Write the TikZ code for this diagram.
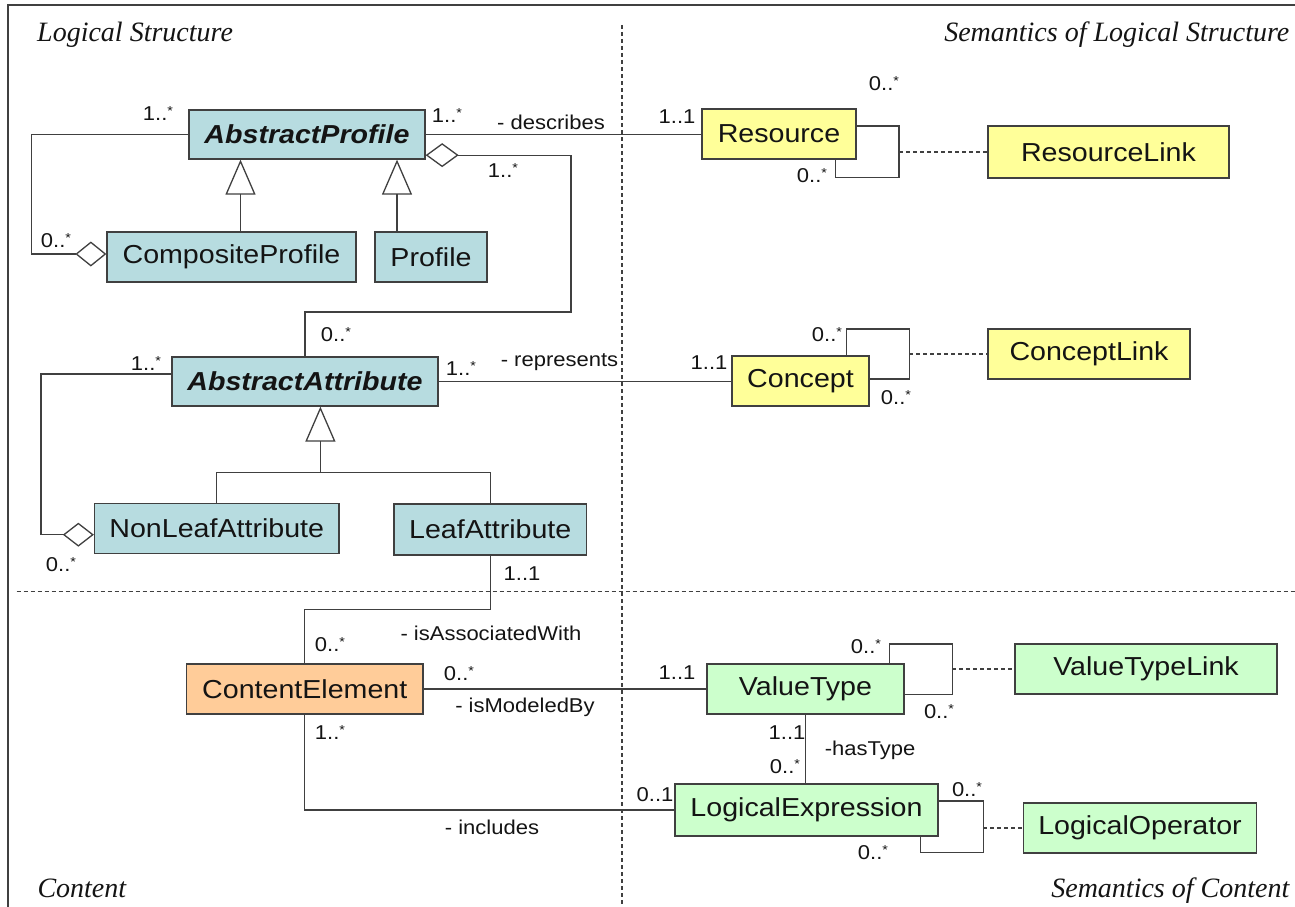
\documentclass[tikz,border=0pt]{standalone}
\usepackage{fontspec}
\setmainfont{Liberation Sans}[FakeStretch=1.1]
\newfontfamily\secfont{Liberation Serif}
\usetikzlibrary{arrows.meta}

\definecolor{clsblue}{RGB}{183,220,224}
\definecolor{clsyellow}{RGB}{255,255,153}
\definecolor{clsorange}{RGB}{255,204,153}
\definecolor{clsgreen}{RGB}{204,255,204}
\definecolor{edge}{RGB}{64,64,64}
\definecolor{ink}{RGB}{20,20,20}

% small raised star used in multiplicities
\newcommand\mstar{\raisebox{5pt}{\fontsize{13}{13}\selectfont *}}

\begin{document}
\begin{tikzpicture}[x=1pt,y=-1pt,
  cls/.style={draw=edge, line width=1.3pt, inner sep=0pt, text=ink,
              font=\fontsize{26}{30}\selectfont},
  conn/.style={draw=edge, line width=1.3pt},
  link/.style={draw=edge, line width=1.1pt, dash pattern=on 4pt off 3pt},
  sep/.style={draw=edge, line width=1.1pt, dash pattern=on 4pt off 3pt},
  gen/.style={-{Triangle[open,length=35pt,width=30pt]}},
  mult/.style={inner sep=0pt, text=ink, font=\fontsize{20}{24}\selectfont},
  sect/.style={inner sep=0pt, text=ink, font=\secfont\itshape\fontsize{28}{32}\selectfont}]

\fill[white] (0,0) rectangle (1295,907);
\useasboundingbox (0,0) rectangle (1295,907);

% frame and quadrant separators
\draw[edge, line width=1.5pt] (8,907) -- (8,5) -- (1295,5);
\draw[sep] (622,25) -- (622,907);
\draw[sep] (16.6,591.7) -- (1295,591.7);

% quadrant titles
\node[sect, anchor=base west] (tLS) at (37,41.5) {Logical Structure};
\node[sect, anchor=base east] (tSLS) at (1289.5,41.5) {Semantics of Logical Structure};
\node[sect, anchor=base west] (tC) at (37.3,897) {Content};
\node[sect, anchor=base east] (tSC) at (1289.5,897) {Semantics of Content};

% classes: logical structure
\node[cls, fill=clsblue, minimum width=236pt, minimum height=49pt] (ap) at (307,134.5) {\bfseries\itshape AbstractProfile};
\node[cls, fill=clsblue, minimum width=249pt, minimum height=50pt] (cp) at (231.5,257) {CompositeProfile};
\node[cls, fill=clsblue, minimum width=112pt, minimum height=50pt] (pr) at (431,257) {Profile};
\node[cls, fill=clsblue, minimum width=266pt, minimum height=49pt] (aa) at (305,381.5) {\bfseries\itshape AbstractAttribute};
\node[cls, fill=clsblue, minimum width=244.5pt, minimum height=50pt] (nl) at (216.75,528.3) {NonLeafAttribute};
\node[cls, fill=clsblue, minimum width=192.5pt, minimum height=51pt] (la) at (490.25,529.5) {LeafAttribute};

% classes: semantics of logical structure
\node[cls, fill=clsyellow, minimum width=154pt, minimum height=50pt] (res) at (779,134) {Resource};
\node[cls, fill=clsyellow, minimum width=241pt, minimum height=52pt] (rl) at (1108.5,152) {ResourceLink};
\node[cls, fill=clsyellow, minimum width=137pt, minimum height=50pt] (con) at (800.5,381) {Concept};
\node[cls, fill=clsyellow, minimum width=202pt, minimum height=50pt] (cl) at (1089,354) {ConceptLink};

% classes: content and its semantics
\node[cls, fill=clsorange, minimum width=236.5pt, minimum height=50pt] (ce) at (304.75,689) {ContentElement};
\node[cls, fill=clsgreen, minimum width=197pt, minimum height=50pt] (vt) at (805.5,689) {ValueType};
\node[cls, fill=clsgreen, minimum width=262pt, minimum height=50pt] (vtl) at (1146,669) {ValueTypeLink};
\node[cls, fill=clsgreen, minimum width=263pt, minimum height=52pt] (le) at (806.5,810) {LogicalExpression};
\node[cls, fill=clsgreen, minimum width=233.5pt, minimum height=50pt] (lo) at (1140,828) {LogicalOperator};

% helper points
\coordinate (g1) at (240.5,0);
\coordinate (g2) at (397,0);
\coordinate (gj) at (320.4,472.7);
\coordinate (rlc) at (899,152);
\coordinate (clc) at (909.4,354);
\coordinate (vtc) at (952.4,669);
\coordinate (lec) at (983.3,828);

% generalizations
\draw[conn,gen] (cp.north -| g1) -- (ap.south -| g1);
\draw[conn,gen] (pr.north -| g2) -- (ap.south -| g2);
\draw[conn] (nl.north) |- (gj) -| (la.north);
\draw[conn,gen] (gj) -- (aa.south -| gj);

% aggregations
\draw[conn,-{Diamond[open,length=31pt,width=25pt]}] (ap.west) -- ++(-157,0) |- ([yshift=3pt]cp.west);
\draw[conn,{Diamond[open,length=33pt,width=24pt]}-] ([yshift=4.5pt]ap.south east) -| (571,312) -| (aa.north);
\draw[conn,-{Diamond[open,length=31pt,width=24pt]}] ([yshift=7.5pt]aa.west) -- ++(-130.5,0) |- ([yshift=-6.4pt]nl.west);

% associations
\draw[conn] (ap.east) -- (ap.east -| res.west);
\draw[conn] (aa.east) -- (aa.east -| con.west);
\draw[conn] (la.south) -- ++(0,53.5) -| (ce.north);
\draw[conn] (ce.east) -- (ce.east -| vt.west);
\draw[conn] (ce.south) |- (le.west);
\draw[conn] (vt.south) -- (vt.south |- le.north);

% reflexive associations and their link classes
\draw[conn] ([yshift=8pt]res.east) -| (899,177.7) -| ([xshift=56.5pt]res.south);
\draw[link] (rlc) -- (rl.west);
\draw[conn] ([xshift=46.3pt]con.north) |- (909.4,329) |- ([yshift=2pt]con.east);
\draw[link] (clc) -- (cl.west);
\draw[conn] ([xshift=84.3pt]vt.north) |- (952.4,644) |- ([yshift=-5.3pt]vt.east);
\draw[link] (vtc) -- (vtl.west);
\draw[conn] ([yshift=9pt]le.east) -| (983.3,852.7) -| ([xshift=114.2pt]le.south);
\draw[link] (lec) -- (lo.west);

% multiplicities and role names
\node[mult] (m1) at (158,114) {1..\mstar};
\node[mult] (m2) at (447,116) {1..\mstar};
\node[mult] (m3) at (551,122) {- describes};
\node[mult] (m4) at (677,117) {1..1};
\node[mult] (m5) at (503,171) {1..\mstar};
\node[mult] (m6) at (884,84) {0..\mstar};
\node[mult] (m7) at (812,176) {0..\mstar};
\node[mult] (m8) at (56,241) {0..\mstar};
\node[mult] (m9) at (336,335) {0..\mstar};
\node[mult] (m10) at (146,364) {1..\mstar};
\node[mult] (m11) at (461,369) {1..\mstar};
\node[mult] (m12) at (559.5,362.5) {- represents};
\node[mult] (m13) at (709,362.5) {1..1};
\node[mult] (m14) at (827,335) {0..\mstar};
\node[mult] (m15) at (896,398) {0..\mstar};
\node[mult] (m16) at (61,565) {0..\mstar};
\node[mult] (m17) at (522,574) {1..1};
\node[mult] (m18) at (330,645) {0..\mstar};
\node[mult] (m19) at (491,633) {- isAssociatedWith};
\node[mult] (m20) at (459,674) {0..\mstar};
\node[mult] (m21) at (525,707) {- isModeledBy};
\node[mult] (m22) at (677,673) {1..1};
\node[mult] (m23) at (866,647) {0..\mstar};
\node[mult] (m24) at (939,712) {0..\mstar};
\node[mult] (m25) at (330,733) {1..\mstar};
\node[mult] (m26) at (492,827) {- includes};
\node[mult] (m27) at (655,795) {0..1};
\node[mult] (m28) at (787,732.5) {1..1};
\node[mult] (m29) at (870,750) {-hasType};
\node[mult] (m30) at (785,767) {0..\mstar};
\node[mult] (m31) at (967,790) {0..\mstar};
\node[mult] (m32) at (873,853) {0..\mstar};
\end{tikzpicture}
\end{document}
